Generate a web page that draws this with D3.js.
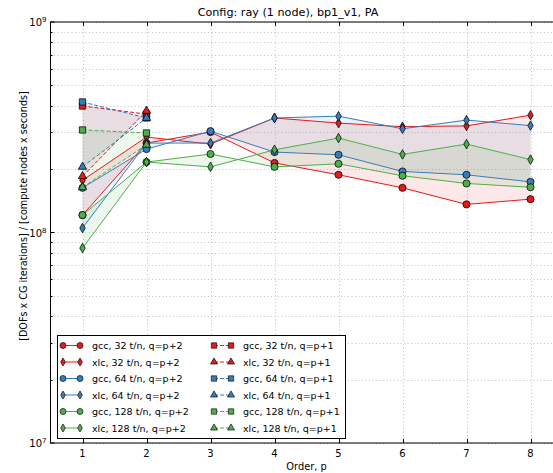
<!DOCTYPE html>
<html>
<head>
<meta charset="utf-8">
<script src="https://cdn.jsdelivr.net/npm/d3@7"></script>
<style>
  body { margin: 0; background: #fff; }
  text { font-family: "DejaVu Sans", sans-serif; }
</style>
</head>
<body>
<div id="chart"></div>
<script>
// order p for the q=p+2 runs, and the few q=p+1 runs
const orders = [1, 2, 3, 4, 5, 6, 7, 8];
const ordersShort = [1, 2];

// throughput values, [DOFs x CG iterations] / [compute nodes x seconds]
const gcc32_q2  = [1.21e8, 2.66e8, 3.00e8, 2.14e8, 1.88e8, 1.63e8, 1.36e8, 1.44e8];
const xlc32_q2  = [1.77e8, 2.84e8, 2.63e8, 3.50e8, 3.31e8, 3.18e8, 3.21e8, 3.61e8];
const gcc64_q2  = [1.63e8, 2.49e8, 3.03e8, 2.41e8, 2.34e8, 1.95e8, 1.88e8, 1.74e8];
const xlc64_q2  = [1.05e8, 2.66e8, 2.66e8, 3.50e8, 3.57e8, 3.11e8, 3.42e8, 3.22e8];
const gcc128_q2 = [1.21e8, 2.16e8, 2.36e8, 2.05e8, 2.12e8, 1.86e8, 1.71e8, 1.64e8];
const xlc128_q2 = [0.843e8, 2.16e8, 2.05e8, 2.47e8, 2.81e8, 2.35e8, 2.63e8, 2.22e8];

const gcc32_q1  = [3.99e8, 3.65e8];
const xlc32_q1  = [1.85e8, 3.78e8];
const gcc64_q1  = [4.17e8, 3.50e8];
const xlc64_q1  = [2.05e8, 3.50e8];
const gcc128_q1 = [3.07e8, 2.97e8];
const xlc128_q1 = [1.64e8, 2.61e8];

const xTicks = [1, 2, 3, 4, 5, 6, 7, 8];
const yMajor = [1e7, 1e8, 1e9];

const red = "#e41a1c", blue = "#377eb8", green = "#4daf4a";

const series = [
  {label: "gcc, 32 t/n, q=p+2",  x: orders, y: gcc32_q2,  color: red,   sym: "circle",  dash: false},
  {label: "xlc, 32 t/n, q=p+2",  x: orders, y: xlc32_q2,  color: red,   sym: "diamond", dash: false},
  {label: "gcc, 64 t/n, q=p+2",  x: orders, y: gcc64_q2,  color: blue,  sym: "circle",  dash: false},
  {label: "xlc, 64 t/n, q=p+2",  x: orders, y: xlc64_q2,  color: blue,  sym: "diamond", dash: false},
  {label: "gcc, 128 t/n, q=p+2", x: orders, y: gcc128_q2, color: green, sym: "circle",  dash: false},
  {label: "xlc, 128 t/n, q=p+2", x: orders, y: xlc128_q2, color: green, sym: "diamond", dash: false},
  {label: "gcc, 32 t/n, q=p+1",  x: ordersShort, y: gcc32_q1,  color: red,   sym: "square",   dash: true},
  {label: "xlc, 32 t/n, q=p+1",  x: ordersShort, y: xlc32_q1,  color: red,   sym: "triangle", dash: true},
  {label: "gcc, 64 t/n, q=p+1",  x: ordersShort, y: gcc64_q1,  color: blue,  sym: "square",   dash: true},
  {label: "xlc, 64 t/n, q=p+1",  x: ordersShort, y: xlc64_q1,  color: blue,  sym: "triangle", dash: true},
  {label: "gcc, 128 t/n, q=p+1", x: ordersShort, y: gcc128_q1, color: green, sym: "square",   dash: true},
  {label: "xlc, 128 t/n, q=p+1", x: ordersShort, y: xlc128_q1, color: green, sym: "triangle", dash: true}
];

// shaded band between gcc and xlc for each thread count
const bands = [
  [orders, gcc32_q2, xlc32_q2, red], [orders, gcc64_q2, xlc64_q2, blue], [orders, gcc128_q2, xlc128_q2, green],
  [ordersShort, gcc32_q1, xlc32_q1, red], [ordersShort, gcc64_q1, xlc64_q1, blue], [ordersShort, gcc128_q1, xlc128_q1, green]
];

const W = 553, H = 473;
const pLeft = 50.5, pRight = 562.5, pTop = 22, pBottom = 443;

const svg = d3.select("#chart").append("svg").attr("width", W).attr("height", H);

const x = d3.scaleLinear().domain([0.5, 8.5]).range([pLeft, pRight]);
const y = d3.scaleLog().domain([1e7, 1e9]).range([pBottom, pTop]);

// minor y values
let yMinor = [];
[1e7, 1e8].forEach(d => { for (let k = 2; k < 10; k++) yMinor.push(d * k); });

// grid
const grid = svg.append("g").attr("stroke", "#9a9a9a").attr("stroke-width", 0.6)
  .attr("stroke-dasharray", "1,2.5");
yMajor.concat(yMinor).forEach(v => {
  grid.append("line").attr("x1", pLeft).attr("x2", pRight)
    .attr("y1", Math.round(y(v)) + 0.5).attr("y2", Math.round(y(v)) + 0.5);
});
xTicks.forEach(v => {
  grid.append("line").attr("y1", pTop).attr("y2", pBottom)
    .attr("x1", Math.round(x(v)) + 0.5).attr("x2", Math.round(x(v)) + 0.5);
});

// bands
bands.forEach(b => {
  const [xs, lo, hi, c] = b;
  const area = d3.area()
    .x((d, i) => x(xs[i]))
    .y0((d, i) => y(lo[i]))
    .y1((d, i) => y(hi[i]));
  svg.append("path").attr("d", area(xs)).attr("fill", c).attr("fill-opacity", 0.1);
});

function symbolPath(sym) {
  if (sym === "circle") return d3.symbol(d3.symbolCircle, 40)();
  if (sym === "square") return d3.symbol(d3.symbolSquare, 40)();
  if (sym === "triangle") return d3.symbol(d3.symbolTriangle, 30)();
  return d3.symbol(d3.symbolDiamond, 26)();
}

// lines and markers
series.forEach(s => {
  const line = d3.line().x((d, i) => x(s.x[i])).y(d => y(d));
  svg.append("path").attr("d", line(s.y))
    .attr("fill", "none").attr("stroke", s.color).attr("stroke-width", 1)
    .attr("stroke-dasharray", s.dash ? "4,2" : null);
  svg.append("g").selectAll("path").data(s.y).enter().append("path")
    .attr("d", symbolPath(s.sym))
    .attr("transform", (d, i) => "translate(" + x(s.x[i]) + "," + y(d) + ")")
    .attr("fill", s.color).attr("stroke", "#000").attr("stroke-width", 0.75);
});

// frame
svg.append("rect").attr("x", pLeft).attr("y", pTop)
  .attr("width", pRight - pLeft).attr("height", pBottom - pTop)
  .attr("fill", "none").attr("stroke", "#000").attr("stroke-width", 1);

// ticks (inside, both sides)
const ticks = svg.append("g").attr("stroke", "#000").attr("stroke-width", 1);
xTicks.forEach(v => {
  const px = Math.round(x(v)) + 0.5;
  ticks.append("line").attr("x1", px).attr("x2", px).attr("y1", pBottom).attr("y2", pBottom - 4);
  ticks.append("line").attr("x1", px).attr("x2", px).attr("y1", pTop).attr("y2", pTop + 4);
});
yMajor.forEach(v => {
  ticks.append("line").attr("x1", pLeft).attr("x2", pLeft + 4).attr("y1", y(v)).attr("y2", y(v));
});
yMinor.forEach(v => {
  const py = Math.round(y(v)) + 0.5;
  ticks.append("line").attr("x1", pLeft).attr("x2", pLeft + 2).attr("y1", py).attr("y2", py);
});

// tick labels
svg.append("g").selectAll("text").data(xTicks).enter().append("text")
  .attr("x", d => x(d)).attr("y", pBottom + 14)
  .attr("text-anchor", "middle").attr("font-size", 10).text(d => d);

const yl = svg.append("g").selectAll("text").data(yMajor).enter().append("text")
  .attr("x", pLeft - 4).attr("y", d => y(d) + 4)
  .attr("text-anchor", "end").attr("font-size", 10);
yl.append("tspan").text("10");
yl.append("tspan").attr("dy", -4).attr("font-size", 7).text(d => Math.round(Math.log10(d)));

// title and axis labels
svg.append("text").attr("x", 288).attr("y", 16).attr("text-anchor", "middle")
  .attr("font-size", 11.2).text("Config: ray (1 node), bp1_v1, PA");
svg.append("text").attr("x", (pLeft + pRight) / 2).attr("y", 470).attr("text-anchor", "middle")
  .attr("font-size", 9.8).text("Order, p");
svg.append("text").attr("transform", "translate(27,216) rotate(-90)").attr("text-anchor", "middle")
  .attr("font-size", 9.6).text("[DOFs x CG iterations] / [compute nodes x seconds]");

// legend
const lg = svg.append("g");
lg.append("rect").attr("x", 57.5).attr("y", 335.5).attr("width", 288).attr("height", 103)
  .attr("fill", "#fff").attr("stroke", "#000").attr("stroke-width", 1);
series.forEach((s, i) => {
  const col = i < 6 ? 0 : 1;
  const row = i % 6;
  const mx1 = col === 0 ? 63 : 214, mx2 = mx1 + 17;
  const ly = 345.5 + row * 16.5;
  lg.append("line").attr("x1", mx1).attr("x2", mx2).attr("y1", ly).attr("y2", ly)
    .attr("stroke", s.color).attr("stroke-width", 1)
    .attr("stroke-dasharray", s.dash ? "4,2" : null);
  [mx1, mx2].forEach(mx => {
    lg.append("path").attr("d", symbolPath(s.sym))
      .attr("transform", "translate(" + mx + "," + ly + ") scale(0.85)")
      .attr("fill", s.color).attr("stroke", "#000").attr("stroke-width", 0.75);
  });
  lg.append("text").attr("x", mx2 + 12).attr("y", ly + 3.5)
    .attr("font-size", 9.5).text(s.label);
});
</script>
</body>
</html>
